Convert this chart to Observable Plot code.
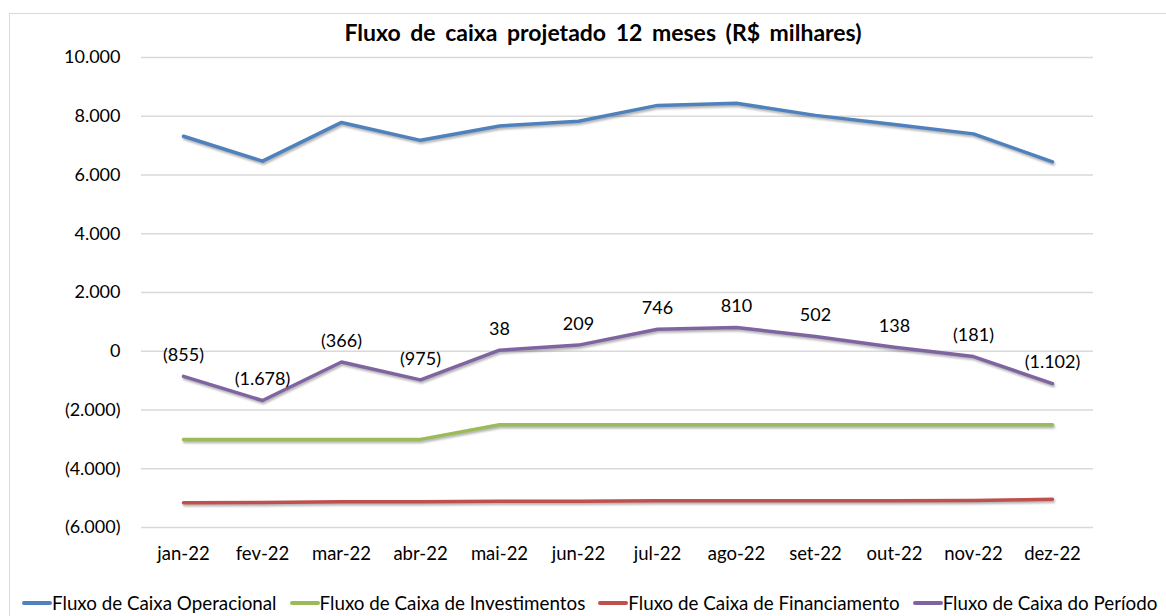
<!DOCTYPE html>
<html><head><meta charset="utf-8">
<script src="https://cdn.jsdelivr.net/npm/d3@7"></script>
<script src="https://cdn.jsdelivr.net/npm/@observablehq/plot@0.6"></script>
<style>
html,body{margin:0;padding:0;background:#fff;}
body{width:1166px;height:616px;overflow:hidden;position:relative;font-family:Lato,"Open Sans",sans-serif;}
#frame{position:absolute;left:9px;top:13px;width:1170px;height:620px;border:1px solid #d9d9d9;box-sizing:border-box;}
#title{position:absolute;left:0;width:1206px;top:18px;text-align:center;font-weight:bold;font-size:23px;word-spacing:4px;line-height:28px;color:#000;}
#chart{position:absolute;left:0;top:0;}
#legend{position:absolute;left:22px;top:592px;display:flex;align-items:center;font-size:18.8px;line-height:22px;color:#000;white-space:nowrap;}
#legend .item{display:flex;align-items:center;margin-right:13px;}
#legend .item:last-child{margin-right:0;}
#legend .sw{width:30px;height:4px;border-radius:2px;margin-right:0px;}
#chart svg g[aria-label="line"] path{filter:drop-shadow(1px 2px 1.2px rgba(0,0,0,0.3));}
</style></head>
<body>
<div id="frame"></div>
<div id="chart"></div>
<div id="title">Fluxo de caixa projetado 12 meses (R$ milhares)</div>
<div id="legend"></div>
<script>
const months = ["jan-22","fev-22","mar-22","abr-22","mai-22","jun-22","jul-22","ago-22","set-22","out-22","nov-22","dez-22"];
const operacional = [7320, 6470, 7790, 7180, 7670, 7830, 8370, 8440, 8030, 7720, 7400, 6450];
const investimentos = [-3000, -3000, -3000, -3000, -2500, -2500, -2500, -2500, -2500, -2500, -2500, -2500];
const financiamento = [-5160, -5150, -5120, -5120, -5110, -5110, -5090, -5090, -5090, -5090, -5080, -5040];
const periodo = [-855, -1678, -366, -975, 38, 209, 746, 810, 502, 138, -181, -1102];
const seriesNames = ["Fluxo de Caixa Operacional","Fluxo de Caixa de Investimentos","Fluxo de Caixa de Financiamento","Fluxo de Caixa do Período"];
const seriesColors = ["#4F81BD","#9BBB59","#C0504D","#8064A2"];
const yTicks = [-6000,-4000,-2000,0,2000,4000,6000,8000,10000];

const fmt = v => { const s = d3.format(",")(Math.abs(v)).replace(/,/g,"."); return v < 0 ? `(${s})` : s; };

const seriesValues = [operacional, investimentos, financiamento, periodo];
const data = [];
seriesNames.forEach((name, i) => months.forEach((m, j) => data.push({series: name, month: m, value: seriesValues[i][j]})));
const periodRows = data.filter(d => d.series === seriesNames[3]);

const chart = Plot.plot({
  width: 1166, height: 580,
  marginLeft: 141, marginRight: 73, marginTop: 57, marginBottom: 53,
  style: {fontFamily: "Lato, 'Open Sans', sans-serif", fontSize: "18px", color: "#000", background: "transparent"},
  x: {type: "point", domain: months, padding: 0.5, label: null},
  y: {domain: [-6000, 10000], label: null},
  color: {domain: seriesNames, range: seriesColors},
  marks: [
    Plot.gridY(yTicks, {stroke: "#d9d9d9", strokeOpacity: 1, strokeWidth: 1.3}),
    Plot.axisY(yTicks, {tickFormat: fmt, tickSize: 0, tickPadding: 21, label: null, fontSize: 18}),
    Plot.axisX({tickSize: 0, tickPadding: 19, label: null, fontSize: 18.5}),
    Plot.line(data, {x: "month", y: "value", z: "series", stroke: "series", strokeWidth: 3.5, strokeLinejoin: "round"}),
    Plot.text(periodRows, {x: "month", y: "value", text: d => fmt(d.value), dy: -21, fontSize: 18, fill: "#000"})
  ]
});
document.getElementById("chart").appendChild(chart);

const legend = document.getElementById("legend");
seriesNames.forEach((name, i) => {
  const it = document.createElement("div"); it.className = "item";
  const sw = document.createElement("div"); sw.className = "sw"; sw.style.background = seriesColors[i];
  const tx = document.createElement("span"); tx.textContent = name;
  it.appendChild(sw); it.appendChild(tx); legend.appendChild(it);
});
</script>
</body></html>
